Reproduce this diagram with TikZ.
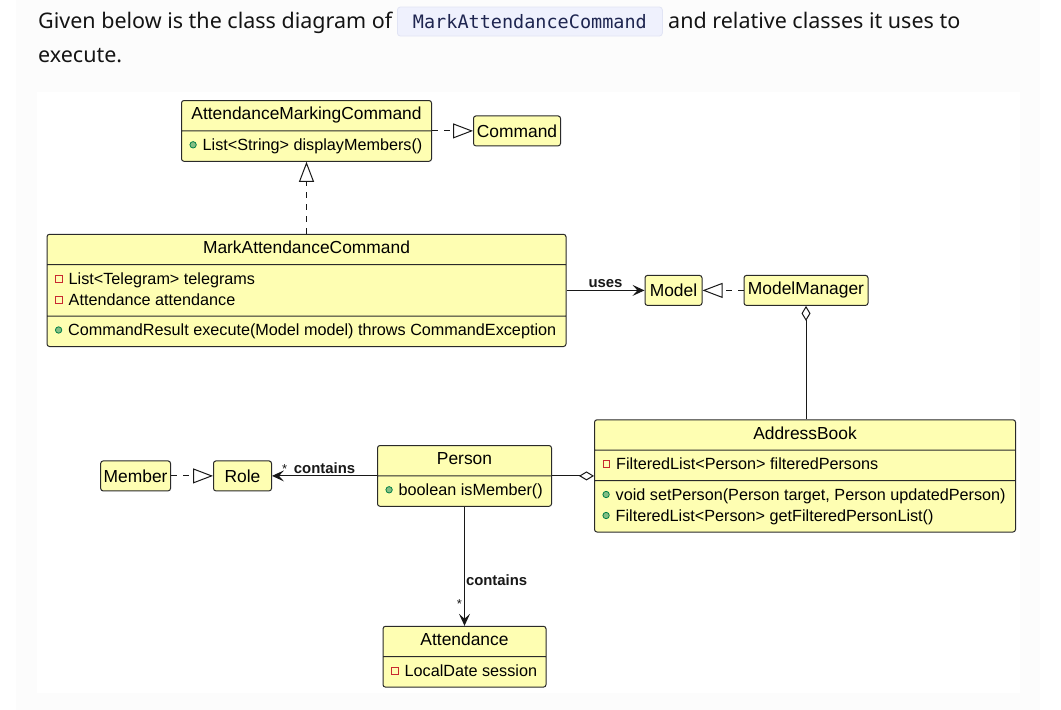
\documentclass[tikz,border=0pt]{standalone}
\usepackage{fontspec}
\setmainfont{Liberation Sans}
\newfontfamily\headfont{Noto Sans}
\newfontfamily\codefont{DejaVu Sans Mono}
\usetikzlibrary{arrows.meta,positioning,shapes.multipart}
\definecolor{classfill}{HTML}{FEFEB2}
\definecolor{boxline}{HTML}{2A2A2A}
\definecolor{linecol}{HTML}{181818}
\definecolor{pubfill}{HTML}{84BE84}
\definecolor{pubdraw}{HTML}{038048}
\definecolor{privdraw}{HTML}{C82930}
\definecolor{panelgray}{HTML}{FCFCFC}
\definecolor{codebg}{HTML}{EFF1FD}
\definecolor{codeline}{HTML}{E1E4F4}
\definecolor{codeink}{HTML}{1E2550}
\definecolor{headink}{HTML}{141414}
\newcommand{\titlefont}{\fontsize{17.4}{21}\selectfont}
\newcommand{\memberfont}{\fontsize{16.2}{21}\selectfont}
\newcommand{\ctitle}[1]{{\titlefont\strut #1}}
\newcommand{\pub}{\strut\tikz[baseline=-5.5pt]\filldraw[fill=pubfill, draw=pubdraw, line width=0.8pt] (0pt,0pt) circle (3.2pt);\hspace{6pt}}
\newcommand{\priv}{\strut\tikz[baseline=-5.5pt]\draw[draw=privdraw, line width=0.9pt, sharp corners] (-3.4pt,-3.4pt) rectangle (3.4pt,3.4pt);\hspace{6pt}}

\begin{document}
\begin{tikzpicture}[x=1pt, y=-1pt,
  umlclass/.style={rectangle split, rectangle split parts=#1,
                   rectangle split part align={center,left,left}, align=left,
                   draw=boxline, fill=classfill, rounded corners=2.5pt, line width=1pt,
                   inner xsep=8pt, inner ysep=4.2pt, font=\memberfont},
  plainclass/.style={draw=boxline, fill=classfill, rounded corners=2.5pt, line width=1pt,
                     minimum height=30pt, inner xsep=3pt, inner ysep=0pt, font=\titlefont},
  realize/.style={-{Triangle[open, length=20pt, width=15pt]}, draw=linecol,
                  line width=1pt, dash pattern=on 6pt off 6pt},
  assoc/.style={-{Stealth[length=12pt, width=11pt, inset=5pt]}, draw=linecol, line width=1pt},
  aggr/.style={{Diamond[open, length=15pt, width=9pt]}-, draw=linecol, line width=1pt},
  lbl/.style={font=\bfseries\fontsize{14.9}{18}\selectfont, text=linecol, inner sep=2pt},
  mult/.style={font=\fontsize{13}{15}\selectfont, text=linecol, inner sep=2pt},
  headtext/.style={font=\headfont\fontsize{21.5}{26}\selectfont, text=headink, inner sep=0pt}
]
  %% Page
  \useasboundingbox (0,0) rectangle (1061,710);
  \fill[white] (0,0) rectangle (1061,710);
  \fill[panelgray] (16,0) rectangle (1040,710);
  \fill[white] (37,92) rectangle (1020,693);

  %% Intro text
  \node[headtext, anchor=base west] (intro) at (38,28) {Given below is the class diagram of};
  \node[draw=codeline, fill=codebg, rounded corners=3pt, line width=0.8pt,
        minimum width=265pt, minimum height=29pt, inner sep=0pt,
        font=\codefont\fontsize{18.5}{20}\selectfont, text=codeink,
        anchor=west] (codename) at (397,21.5) {MarkAttendanceCommand};
  \node[headtext, anchor=base west] (introrest) at (668,28) {and relative classes it uses to};
  \node[headtext, anchor=base west] (introend) at (38,62) {execute.};

  %% Commands
  \node[umlclass=2, minimum width=250pt, anchor=north west] (amc) at (181,100)
    {\ctitle{AttendanceMarkingCommand}
     \nodepart{second}\pub List<String> displayMembers()};
  \node[plainclass, minimum width=87pt, right=41pt of amc] (command) {Command};
  \node[umlclass=3, minimum width=519pt, below=72pt of amc] (mac)
    {\ctitle{MarkAttendanceCommand}
     \nodepart{second}\priv List<Telegram> telegrams\\\priv Attendance attendance
     \nodepart{third}\pub CommandResult execute(Model model) throws CommandException};

  %% Model side
  \node[plainclass, minimum width=57pt, right=78pt of mac] (model) {Model};
  \node[plainclass, minimum width=124pt, right=41pt of model] (modelmgr) {ModelManager};

  %% Person side
  \node[umlclass=2, minimum width=174pt, anchor=north west] (person) at (377,445)
    {\ctitle{Person}
     \nodepart{second}\pub boolean isMember()};
  \node[plainclass, minimum width=58pt, left=105pt of person] (role) {Role};
  \node[plainclass, minimum width=69pt, left=42pt of role] (member) {Member};
  \node[umlclass=2, minimum width=163pt, below=119pt of person] (attendance)
    {\ctitle{Attendance}
     \nodepart{second}\priv LocalDate session};
  \node[umlclass=3, minimum width=421pt, right=42pt of person] (addrbook)
    {\ctitle{AddressBook}
     \nodepart{second}\priv FilteredList<Person> filteredPersons
     \nodepart{third}\pub void setPerson(Person target, Person updatedPerson)\\\pub FilteredList<Person> getFilteredPersonList()};

  %% Arrows
  \draw[realize] (amc.east) -- (command.west);
  \draw[realize] (mac.north -| amc.south) -- (amc.south);
  \draw[assoc] (mac.east) -- (model.west) node[lbl, above, pos=0.5] {uses};
  \draw[realize] (modelmgr.west) -- (model.east);
  \draw[aggr] (modelmgr.south) -- (modelmgr.south |- addrbook.north);
  \draw[aggr] (person.east -| addrbook.west) -- (person.east);
  \draw[assoc] (person.west) -- (role.east)
    node[lbl, above, pos=0.5] {contains}
    node[mult, above, pos=0.88] {*};
  \draw[realize] (member.east) -- (role.west);
  \draw[assoc] (person.south) -- (attendance.north)
    node[lbl, right, pos=0.62, inner sep=1pt] {contains}
    node[mult, left, pos=0.82] {*};
\end{tikzpicture}
\end{document}
